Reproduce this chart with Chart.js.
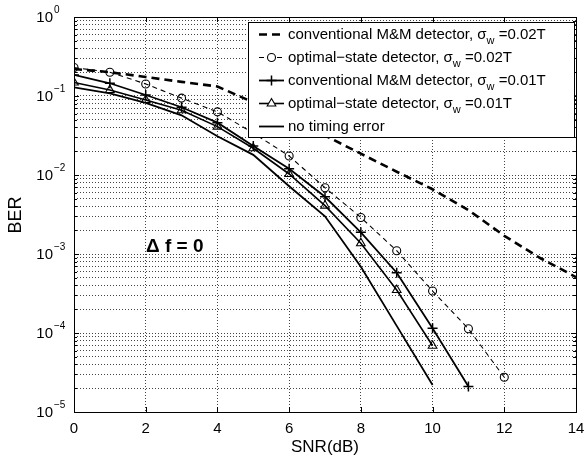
<!DOCTYPE html>
<html>
<head>
<meta charset="utf-8">
<script src="https://cdn.jsdelivr.net/npm/chart.js@4/dist/chart.umd.min.js"></script>
<style>
  html, body { margin: 0; padding: 0; background: #fff; }
  #wrap { width: 584px; height: 462px; }
</style>
</head>
<body>
<div id="wrap"><canvas id="berChart" width="584" height="462"></canvas></div>
<script>
// SNR axis (dB) and BER curves
const snrDb = [0, 1, 2, 3, 4, 5, 6, 7, 8, 9, 10, 11, 12, 13, 14];
const berConvMM002 = [0.22, 0.20, 0.174, 0.151, 0.132, 0.083, 0.051, 0.0316, 0.0186, 0.011, 0.0066, 0.0036, 0.0017, 0.00089, 0.00051];
const berOptState002 = [0.229, 0.20, 0.142, 0.094, 0.063, 0.034, 0.0174, 0.0069, 0.0029, 0.0011, 0.00034, 0.000113, 0.0000275];
const berConvMM001 = [0.185, 0.145, 0.103, 0.072, 0.046, 0.0233, 0.012, 0.0053, 0.00188, 0.00058, 0.000115, 0.000021];
const berOptState001 = [0.148, 0.119, 0.089, 0.066, 0.041, 0.0218, 0.0103, 0.0041, 0.00137, 0.00035, 0.000069];
const berNoTiming = [0.129, 0.108, 0.082, 0.057, 0.031, 0.018, 0.0072, 0.003, 0.00069, 0.000123, 0.000022];

const xTickLabels = [0, 2, 4, 6, 8, 10, 12, 14];
const yDecadeExps = [0, -1, -2, -3, -4, -5];
const legendNames = [
    ['conventional M&M detector, \u03c3', 'w', ' =0.02T'],
    ['optimal\u2212state detector, \u03c3', 'w', ' =0.02T'],
    ['conventional M&M detector, \u03c3', 'w', ' =0.01T'],
    ['optimal\u2212state detector, \u03c3', 'w', ' =0.01T'],
    ['no timing error', '', '']
];

const FONT = '"Liberation Sans", Arial, Helvetica, sans-serif';

// minor log grid: 1..9 x 10^k
const yGridValues = [];
yDecadeExps.slice().reverse().forEach(e => {
    if (e === 0) { yGridValues.push(1); return; }
    for (let m = 1; m <= 9; m++) yGridValues.push(+(m * Math.pow(10, e)).toPrecision(3));
});

const toPoints = arr => arr.map((v, i) => ({ x: snrDb[i], y: v }));

const datasets = [
    { data: toPoints(berConvMM002), borderColor: '#000', borderWidth: 2.6, borderDash: [8, 5], pointRadius: 0 },
    { data: toPoints(berOptState002), borderColor: '#000', borderWidth: 1.1, borderDash: [5, 4], pointStyle: 'circle', pointRadius: 4, pointBorderWidth: 1.1, pointBorderColor: '#000', pointBackgroundColor: 'rgba(0,0,0,0)' },
    { data: toPoints(berConvMM001), borderColor: '#000', borderWidth: 1.8, pointStyle: 'cross', pointRadius: 5, pointBorderWidth: 1.5, pointBorderColor: '#000' },
    { data: toPoints(berOptState001), borderColor: '#000', borderWidth: 1.6, pointStyle: 'triangle', pointRadius: 5, pointBorderWidth: 1.1, pointBorderColor: '#000', pointBackgroundColor: 'rgba(0,0,0,0)' },
    { data: toPoints(berNoTiming), borderColor: '#000', borderWidth: 1.8, pointRadius: 0 }
];
datasets.forEach(d => { d.fill = false; d.tension = 0; d.borderCapStyle = 'butt'; });

function drawRich(ctx, parts, x, y, big, small) {
    ctx.textBaseline = 'middle';
    ctx.textAlign = 'left';
    parts.forEach((p, i) => {
        if (!p) return;
        const sub = i === 1;
        ctx.font = (sub ? small : big) + 'px ' + FONT;
        ctx.fillText(p, x, y + (sub ? 6 : 0));
        x += ctx.measureText(p).width;
    });
}

const decorations = {
    id: 'decorations',
    afterDraw(chart) {
        const { ctx, chartArea: a, scales: { x, y } } = chart;
        ctx.save();
        ctx.fillStyle = '#000';
        ctx.strokeStyle = '#000';

        // frame
        ctx.lineWidth = 1;
        ctx.strokeRect(Math.round(a.left) + 0.5, Math.round(a.top) + 0.5, Math.round(a.right - a.left), Math.round(a.bottom - a.top));

        // inward ticks
        ctx.beginPath();
        xTickLabels.forEach(v => {
            const px = Math.round(x.getPixelForValue(v)) + 0.5;
            ctx.moveTo(px, a.bottom); ctx.lineTo(px, a.bottom - 5);
            ctx.moveTo(px, a.top); ctx.lineTo(px, a.top + 5);
        });
        yGridValues.forEach(v => {
            const py = Math.round(y.getPixelForValue(v)) + 0.5;
            const len = Math.abs(Math.log10(v) % 1) < 1e-6 ? 5 : 3;
            ctx.moveTo(a.left, py); ctx.lineTo(a.left + len, py);
            ctx.moveTo(a.right, py); ctx.lineTo(a.right - len, py);
        });
        ctx.stroke();

        // x tick labels
        ctx.font = '15px ' + FONT;
        ctx.textAlign = 'center';
        ctx.textBaseline = 'middle';
        xTickLabels.forEach(v => ctx.fillText(String(v), x.getPixelForValue(v), a.bottom + 17));

        // y tick labels 10^k
        yDecadeExps.forEach(e => {
            const py = y.getPixelForValue(Math.pow(10, e));
            ctx.font = '15px ' + FONT;
            ctx.textAlign = 'right';
            ctx.textBaseline = 'middle';
            ctx.fillText('10', 53, py + 1);
            ctx.font = '10px ' + FONT;
            ctx.textAlign = 'left';
            ctx.fillText(e === 0 ? '0' : '\u2212' + Math.abs(e), 54, py - 7);
        });

        // axis titles
        ctx.font = '17px ' + FONT;
        ctx.textAlign = 'center';
        ctx.textBaseline = 'middle';
        ctx.fillText('SNR(dB)', (a.left + a.right) / 2, 447);
        ctx.save();
        ctx.translate(16, 215);
        ctx.rotate(-Math.PI / 2);
        ctx.font = '18px ' + FONT;
        ctx.fillText('BER', 0, 0);
        ctx.restore();

        // annotation
        ctx.font = 'bold 19px ' + FONT;
        ctx.textAlign = 'left';
        ctx.textBaseline = 'alphabetic';
        ctx.fillText('\u0394 f = 0', 146, 252);

        // legend box
        const lx = 248, ly = 22, lw = 326, lh = 115;
        ctx.fillStyle = '#fff';
        ctx.fillRect(lx, ly, lw, lh);
        ctx.lineWidth = 1;
        ctx.strokeRect(lx + 0.5, ly + 0.5, lw, lh);
        ctx.fillStyle = '#000';
        chart.data.datasets.forEach((d, i) => {
            const ry = 34.5 + i * 23;
            ctx.save();
            ctx.lineWidth = d.borderWidth;
            ctx.setLineDash(d.borderDash || []);
            ctx.beginPath();
            ctx.moveTo(259, ry); ctx.lineTo(284, ry);
            ctx.stroke();
            ctx.restore();
            if (d.pointRadius > 0) {
                ctx.save();
                ctx.fillStyle = '#fff';
                ctx.lineWidth = d.pointBorderWidth;
                Chart.helpers.drawPoint(ctx, { pointStyle: d.pointStyle, radius: d.pointRadius, rotation: 0, borderWidth: d.pointBorderWidth }, 271.5, ry);
                ctx.restore();
            }
            drawRich(ctx, legendNames[i], 288, ry, 15, 11);
        });
        ctx.restore();
    }
};

const gridOpts = { color: '#444', lineWidth: 1, drawTicks: false };
const borderOpts = { display: false, dash: [1, 2] };

new Chart(document.getElementById('berChart'), {
    type: 'line',
    data: { datasets },
    options: {
        responsive: false,
        animation: false,
        devicePixelRatio: 1,
        layout: { padding: { left: 0, top: 17, right: 8, bottom: 0 } },
        plugins: { legend: { display: false }, tooltip: { enabled: false } },
        scales: {
            x: {
                type: 'linear', min: 0, max: 14,
                afterBuildTicks: s => { s.ticks = xTickLabels.map(v => ({ value: v })); },
                afterFit: s => { s.height = 50; },
                ticks: { display: false },
                grid: gridOpts,
                border: borderOpts
            },
            y: {
                type: 'logarithmic', min: 1e-5, max: 1,
                afterBuildTicks: s => { s.ticks = yGridValues.map(v => ({ value: v })); },
                afterFit: s => { s.width = 74; },
                ticks: { display: false },
                grid: gridOpts,
                border: borderOpts
            }
        }
    },
    plugins: [decorations]
});
</script>
</body>
</html>
